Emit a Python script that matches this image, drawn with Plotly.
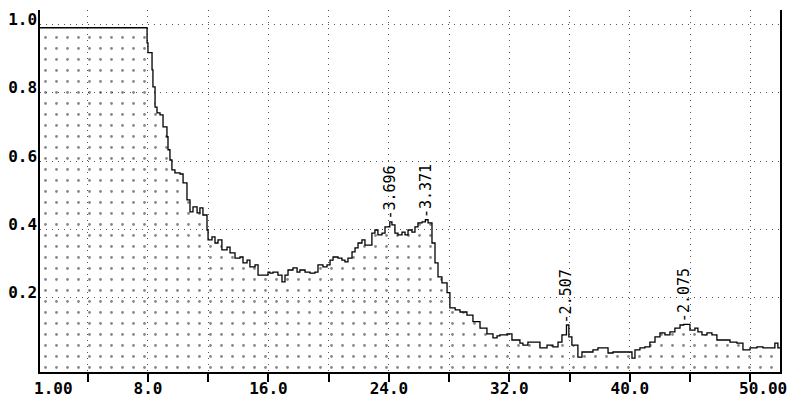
import math
import plotly.graph_objects as go

# Diffraction pattern: 2-theta (degrees) vs relative intensity
two_theta = [
    0.83, 7.67, 7.80, 7.94, 8.00, 8.27, 8.33, 8.47, 8.60, 8.80, 9.00, 9.26, 9.33,
    9.46, 9.59, 9.79, 10.13, 10.33, 10.59, 10.79, 10.99, 11.26, 11.45, 11.65,
    11.92, 11.99, 12.25, 12.45, 12.65, 12.91, 13.25, 13.45, 13.78, 14.11, 14.31,
    14.58, 14.77, 15.11, 15.31, 15.64, 15.97, 16.10, 16.30, 16.63, 16.90, 17.10,
    17.30, 17.63, 17.90, 18.09, 18.43, 18.76, 19.09, 19.29, 19.62, 19.89, 20.09,
    20.29, 20.62, 20.88, 21.08, 21.28, 21.55, 21.75, 21.95, 22.21, 22.41, 22.61,
    22.87, 23.07, 23.27, 23.54, 23.74, 24.06, 24.20, 24.40, 24.60, 24.87, 25.07,
    25.27, 25.53, 25.73, 25.93, 26.20, 26.42, 26.60, 26.86, 27.06, 27.26, 27.52,
    27.86, 28.05, 28.40, 28.72, 29.18, 29.58, 30.05, 30.51, 30.91, 31.18, 31.37,
    31.84, 32.17, 32.70, 32.90, 33.23, 33.57, 34.03, 34.50, 34.89, 35.23, 35.49,
    35.79, 35.95, 36.15, 36.55, 36.82, 37.22, 37.55, 37.88, 38.21, 38.55, 38.88,
    39.14, 39.81, 40.14, 40.34, 40.67, 41.00, 41.33, 41.67, 42.00, 42.33, 42.66,
    42.99, 43.33, 43.58, 43.99, 44.32, 44.52, 44.79, 45.12, 45.45, 45.78, 46.18,
    46.65, 47.11, 47.51, 47.98, 48.44, 48.84, 49.30, 49.63, 49.83, 49.97,
]
intensity = [
    0.990, 0.990, 0.990, 0.946, 0.917, 0.867, 0.817, 0.758, 0.741, 0.735, 0.700,
    0.671, 0.633, 0.603, 0.574, 0.565, 0.562, 0.536, 0.486, 0.451, 0.466, 0.448,
    0.463, 0.442, 0.398, 0.369, 0.378, 0.360, 0.369, 0.340, 0.348, 0.331, 0.316,
    0.319, 0.302, 0.310, 0.290, 0.296, 0.266, 0.266, 0.275, 0.272, 0.275, 0.266,
    0.246, 0.266, 0.281, 0.287, 0.275, 0.281, 0.275, 0.272, 0.275, 0.296, 0.290,
    0.296, 0.310, 0.319, 0.316, 0.310, 0.305, 0.316, 0.334, 0.346, 0.360, 0.369,
    0.354, 0.354, 0.389, 0.398, 0.384, 0.389, 0.407, 0.422, 0.413, 0.389, 0.384,
    0.392, 0.384, 0.398, 0.392, 0.407, 0.419, 0.422, 0.428, 0.419, 0.360, 0.302,
    0.261, 0.243, 0.215, 0.170, 0.164, 0.158, 0.149, 0.130, 0.111, 0.094, 0.082,
    0.088, 0.091, 0.094, 0.076, 0.067, 0.061, 0.070, 0.070, 0.053, 0.061, 0.056,
    0.070, 0.091, 0.120, 0.085, 0.061, 0.026, 0.041, 0.041, 0.047, 0.053, 0.053,
    0.038, 0.041, 0.041, 0.041, 0.023, 0.047, 0.053, 0.056, 0.070, 0.085, 0.097,
    0.091, 0.100, 0.111, 0.120, 0.122, 0.105, 0.111, 0.100, 0.091, 0.097, 0.091,
    0.076, 0.076, 0.070, 0.067, 0.047, 0.053, 0.056, 0.053, 0.053, 0.067, 0.053,
    0.053,
]

# Labelled reflections (d-spacing in angstrom)
peak_d = ["3.696", "3.371", "2.507", "2.075"]
WAVELENGTH = 1.5406  # Cu K-alpha

x_tick_vals = [4, 8, 12, 16, 20, 24, 28, 32, 36, 40, 44, 48]
x_tick_text = ["", "8.0", "", "16.0", "", "24.0", "", "32.0", "", "40.0", "", ""]
y_tick_vals = [0.2, 0.4, 0.6, 0.8, 1.0]
y_tick_text = ["0.2", "0.4", "0.6", "0.8", "1.0"]
x_edge_text = ["1.00", "50.00"]

X_RANGE = [0.83, 49.97]
Y_RANGE = [-0.0176, 1.042]

MONO = "DejaVu Sans Mono"
DOTS = "1px,5px"
LABEL_FONT = dict(family=MONO, size=16, color="black", weight="bold")

fig = go.Figure()

# baseline at the bottom of the axis so the dotted fill reaches the frame
fig.add_trace(go.Scatter(
    x=[X_RANGE[0], X_RANGE[1]], y=[Y_RANGE[0], Y_RANGE[0]],
    mode="lines", line=dict(width=0), hoverinfo="skip", showlegend=False,
))
fig.add_trace(go.Scatter(
    x=two_theta, y=intensity, mode="lines",
    line=dict(color="black", width=1.3, shape="hv"),
    fill="tonexty", fillcolor="rgba(0,0,0,0)",
    fillpattern=dict(shape=".", size=11, solidity=0.05,
                     fgcolor="#111111", bgcolor="rgba(0,0,0,0)"),
    showlegend=False,
))

# vertical d-spacing labels above each reflection
for d in peak_d:
    tt = 2 * math.degrees(math.asin(WAVELENGTH / (2 * float(d))))
    near = [v for a, v in zip(two_theta, intensity) if abs(a - tt) < 0.25]
    fig.add_annotation(
        x=tt, y=max(near), text="-" + d, textangle=-90, showarrow=False,
        xanchor="center", yanchor="bottom", yshift=0,
        font=dict(family=MONO, size=15, color="black", weight="normal"),
    )

# end labels of the 2-theta axis
fig.add_annotation(xref="paper", yref="paper", x=0, y=0, text=x_edge_text[0],
                   showarrow=False, xanchor="left", yanchor="middle",
                   xshift=-7, yshift=-16, borderpad=0, font=LABEL_FONT)
fig.add_annotation(xref="paper", yref="paper", x=1, y=0, text=x_edge_text[1],
                   showarrow=False, xanchor="left", yanchor="middle",
                   xshift=-42, yshift=-16, borderpad=0, font=LABEL_FONT)

fig.update_layout(
    width=787, height=398,
    margin=dict(l=40, r=7, t=10, b=26),
    plot_bgcolor="white", paper_bgcolor="white",
    font=LABEL_FONT,
)
fig.update_xaxes(
    range=X_RANGE, tickmode="array", tickvals=x_tick_vals, ticktext=x_tick_text,
    ticks="outside", ticklen=8, tickwidth=1.5, tickcolor="black",
    ticklabelstandoff=-7,
    showline=True, linecolor="black", linewidth=1.5, automargin=False,
    showgrid=True, gridcolor="#555555", gridwidth=1, griddash=DOTS,
    zeroline=False,
)
fig.update_yaxes(
    range=Y_RANGE, tickmode="array", tickvals=y_tick_vals, ticktext=y_tick_text,
    ticks="", ticklabelstandoff=-2, ticklabelshift=-5, automargin=False,
    showline=True, mirror=True, linecolor="black", linewidth=1.5,
    showgrid=True, gridcolor="#555555", gridwidth=1, griddash=DOTS,
    zeroline=False,
)

fig.write_html("out.html")
